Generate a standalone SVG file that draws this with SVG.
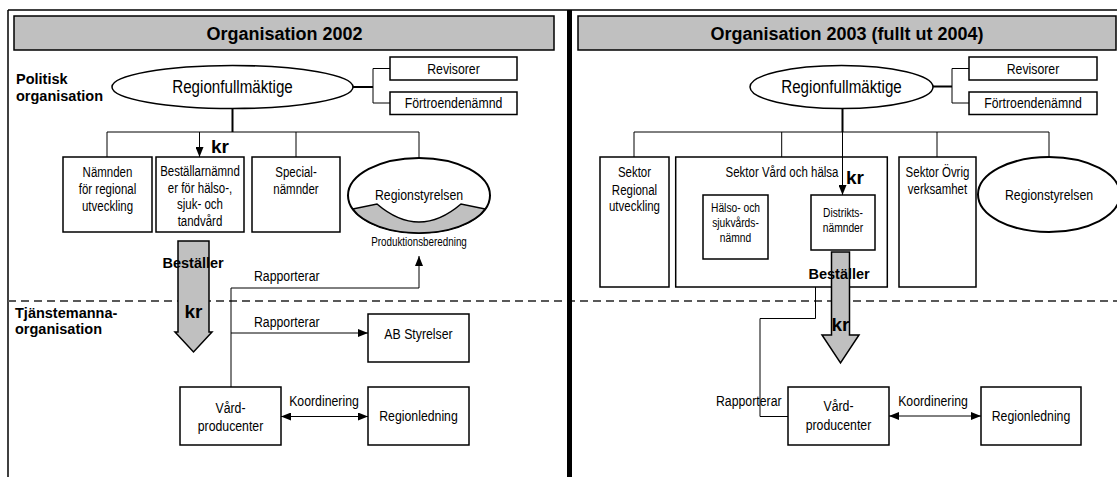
<svg xmlns="http://www.w3.org/2000/svg" width="1117" height="477" viewBox="0 0 1117 477">
<style>
.box{fill:#fff;stroke:#000;stroke-width:1.5}
.ell{fill:#fff;stroke:#000;stroke-width:1.5}
.ln{fill:none;stroke:#000;stroke-width:1}
.thk{fill:none;stroke:#000;stroke-width:2}
.grey{fill:#c0c0c0;stroke:#000;stroke-width:1.5}
.t{font-family:"Liberation Sans",Arial,sans-serif;fill:#000;text-anchor:middle}
.s{text-anchor:start}
.b{font-family:"Liberation Sans",Arial,sans-serif;font-weight:bold;fill:#000}
.f18{font-size:18.5px}.f15{font-size:15px}.f14{font-size:14px}.f12{font-size:12.5px}
</style>
<defs>
<marker id="ah" markerWidth="10" markerHeight="8" refX="10" refY="4" orient="auto-start-reverse" markerUnits="userSpaceOnUse">
<path d="M0,0 L10,4 L0,8 z" fill="#000"/>
</marker>
</defs>
<rect width="1117" height="477" fill="#fff"/>
<g id="frame">
<line x1="8" y1="10" x2="1117" y2="10" stroke="#000" stroke-width="1.5"/>
<line x1="8" y1="10" x2="8" y2="477" stroke="#000" stroke-width="1.5"/>
<path d="M8,301 H1117" stroke="#595959" stroke-width="2" stroke-dasharray="8 5" fill="none"/>
</g>
<g id="header-left">
<rect x="14" y="16" width="540" height="34" class="grey"/>
<text x="284.5" y="40" class="b" font-size="18" text-anchor="middle">Organisation 2002</text>
</g>
<g id="header-right">
<rect x="578" y="16" width="538" height="34" class="grey"/>
<text x="847" y="40" class="b" font-size="18" text-anchor="middle">Organisation 2003 (fullt ut 2004)</text>
</g>
<g id="label-politisk">
<text x="16" y="84" class="b" font-size="14.5">Politisk</text>
<text x="16" y="101" class="b" font-size="14.5">organisation</text>
</g>
<g id="label-tjanstemanna">
<text x="15" y="318" class="b" font-size="14.5">Tjänstemanna-</text>
<text x="15" y="334" class="b" font-size="14.5">organisation</text>
</g>
<g id="connectors">
<line x1="353" y1="87" x2="373" y2="87" class="thk"/>
<path d="M390,68.5 H373 V103 H390" class="ln"/>
<line x1="232.5" y1="108.5" x2="232.5" y2="132" class="thk"/>
<path d="M107,157 V132 H419 V158" class="ln"/>
<line x1="199.5" y1="132" x2="199.5" y2="157" class="ln" marker-end="url(#ah)"/>
<line x1="296" y1="132" x2="296" y2="157" class="ln"/>
<path d="M231,387 V288 H419 V256" class="ln" marker-end="url(#ah)"/>
<path d="M231,333 H368" class="ln" marker-end="url(#ah)"/>
<path d="M281,416.5 H368" class="ln" marker-start="url(#ah)" marker-end="url(#ah)"/>
<line x1="933" y1="86.5" x2="952" y2="86.5" class="thk"/>
<path d="M969,68.5 H952 V103 H969" class="ln"/>
<line x1="842.5" y1="108.5" x2="842.5" y2="132" class="thk"/>
<path d="M634,157 V132 H1049 V157" class="ln"/>
<line x1="781.7" y1="132" x2="781.7" y2="157" class="ln"/>
<line x1="937" y1="132" x2="937" y2="157" class="ln"/>
<path d="M788,416.5 H760 V318.5 H815.5 V251" class="ln" marker-end="url(#ah)"/>
<path d="M889,416 H981" class="ln" marker-start="url(#ah)" marker-end="url(#ah)"/>
</g>
<g id="regionfullmaktige-l">
<ellipse cx="232.5" cy="87" rx="120.5" ry="21.5" class="ell"/>
<text x="232.5" y="93.5" class="t f18" transform="matrix(.82 0 0 1 41.85 0)">Regionfullmäktige</text>
</g>
<g id="revisorer-l">
<rect x="390" y="57" width="127" height="23" class="box"/>
<text x="453.5" y="74.5" class="t f15" transform="matrix(.82 0 0 1 81.63 0)">Revisorer</text>
</g>
<g id="fortroende-l">
<rect x="390" y="92" width="127" height="22.5" class="box"/>
<text x="453.5" y="108.5" class="t f15" transform="matrix(.82 0 0 1 81.63 0)">Förtroendenämnd</text>
</g>
<g id="namnden-l">
<rect x="63" y="157" width="89" height="75" class="box"/>
<text x="107.5" y="177" class="t f14" transform="matrix(.82 0 0 1 19.35 0)">Nämnden</text>
<text x="107.5" y="194" class="t f14" transform="matrix(.82 0 0 1 19.35 0)">för regional</text>
<text x="107.5" y="211" class="t f14" transform="matrix(.82 0 0 1 19.35 0)">utveckling</text>
</g>
<g id="bestallar-l">
<rect x="156" y="157" width="88" height="75" class="box"/>
<text x="200" y="176.5" class="t f14" transform="matrix(.82 0 0 1 36 0)">Beställarnämnd</text>
<text x="200" y="193" class="t f14" transform="matrix(.82 0 0 1 36 0)">er för hälso-,</text>
<text x="200" y="209.5" class="t f14" transform="matrix(.82 0 0 1 36 0)">sjuk- och</text>
<text x="200" y="226" class="t f14" transform="matrix(.82 0 0 1 36 0)">tandvård</text>
</g>
<g id="special-l">
<rect x="252" y="157" width="88" height="75" class="box"/>
<text x="296" y="177" class="t f14" transform="matrix(.82 0 0 1 53.28 0)">Special-</text>
<text x="296" y="194" class="t f14" transform="matrix(.82 0 0 1 53.28 0)">nämnder</text>
</g>
<g id="regionstyrelsen-l">
<ellipse cx="419" cy="195.5" rx="71" ry="37.5" fill="#fff" stroke="#000" stroke-width="2"/>
<path d="M352.8,209 L377,204 Q419,240 461,204 L485.2,209 A71,37.5 0 0 1 352.8,209 Z" class="grey"/>
<text x="419" y="200" class="t f15" transform="matrix(.82 0 0 1 75.42 0)">Regionstyrelsen</text>
<text x="419" y="246.5" class="t" font-size="12" transform="matrix(.82 0 0 1 75.42 0)">Produktionsberedning</text>
</g>
<g id="kr-l">
<text x="211" y="153" class="b" font-size="19">kr</text>
</g>
<g id="bestaller-arrow-l">
<polygon points="178,241 209,241 209,332 212,332 193.5,352 175,332 178,332" class="grey"/>
<text x="162.5" y="268" class="b" font-size="14.5">Beställer</text>
<text x="193.5" y="318" class="b" font-size="19" text-anchor="middle">kr</text>
</g>
<g id="rapport-labels-l">
<text x="254" y="281" class="t s f15" transform="matrix(.82 0 0 1 45.72 0)">Rapporterar</text>
<text x="254" y="327" class="t s f15" transform="matrix(.82 0 0 1 45.72 0)">Rapporterar</text>
</g>
<g id="ab-styrelser">
<rect x="368" y="314" width="101" height="48" class="box"/>
<text x="418.5" y="339.5" class="t f15" transform="matrix(.82 0 0 1 75.33 0)">AB Styrelser</text>
</g>
<g id="vard-l">
<rect x="180" y="387" width="101" height="58" class="box"/>
<text x="230.5" y="413" class="t f15" transform="matrix(.82 0 0 1 41.49 0)">Vård-</text>
<text x="230.5" y="431.5" class="t f15" transform="matrix(.82 0 0 1 41.49 0)">producenter</text>
</g>
<g id="regionledning-l">
<rect x="368" y="387" width="101" height="58" class="box"/>
<text x="418.5" y="421.5" class="t f15" transform="matrix(.82 0 0 1 75.33 0)">Regionledning</text>
</g>
<text x="324" y="406" class="t f15" transform="matrix(.82 0 0 1 58.32 0)">Koordinering</text>
<g id="regionfullmaktige-r">
<ellipse cx="841.5" cy="87" rx="91.5" ry="21.5" class="ell"/>
<text x="841.5" y="93.5" class="t f18" transform="matrix(.82 0 0 1 151.47 0)">Regionfullmäktige</text>
</g>
<g id="revisorer-r">
<rect x="969" y="57" width="128" height="23" class="box"/>
<text x="1033" y="74.5" class="t f15" transform="matrix(.82 0 0 1 185.94 0)">Revisorer</text>
</g>
<g id="fortroende-r">
<rect x="969" y="92" width="128" height="22.5" class="box"/>
<text x="1033" y="108.5" class="t f15" transform="matrix(.82 0 0 1 185.94 0)">Förtroendenämnd</text>
</g>
<g id="sektor-regional">
<rect x="600" y="157" width="69" height="130" class="box"/>
<text x="634.5" y="177" class="t f14" transform="matrix(.82 0 0 1 114.21 0)">Sektor</text>
<text x="634.5" y="195" class="t f14" transform="matrix(.82 0 0 1 114.21 0)">Regional</text>
<text x="634.5" y="211" class="t f14" transform="matrix(.82 0 0 1 114.21 0)">utveckling</text>
</g>
<g id="sektor-vard">
<rect x="675.7" y="157" width="211.6" height="130" class="box"/>
<text x="782" y="177" class="t f14" transform="matrix(.82 0 0 1 140.76 0)">Sektor Vård och hälsa</text>
</g>
<g id="halso">
<rect x="703" y="195" width="65" height="64" class="box"/>
<text x="735.5" y="212.5" class="t f12" transform="matrix(.82 0 0 1 132.39 0)">Hälso- och</text>
<text x="735.5" y="227" class="t f12" transform="matrix(.82 0 0 1 132.39 0)">sjukvårds-</text>
<text x="735.5" y="242" class="t f12" transform="matrix(.82 0 0 1 132.39 0)">nämnd</text>
</g>
<g id="distrikts">
<rect x="811" y="195" width="64" height="55" class="box"/>
<text x="843" y="217" class="t f12" transform="matrix(.82 0 0 1 151.74 0)">Distrikts-</text>
<text x="843" y="232" class="t f12" transform="matrix(.82 0 0 1 151.74 0)">nämnder</text>
</g>
<g id="arrow-kr-r">
<line x1="842.5" y1="132" x2="842.5" y2="195" class="ln" marker-end="url(#ah)"/>
<text x="846" y="184" class="b" font-size="19">kr</text>
</g>
<g id="sektor-ovrig">
<rect x="899" y="157" width="77" height="130" class="box"/>
<text x="937.5" y="177" class="t f14" transform="matrix(.82 0 0 1 168.75 0)">Sektor Övrig</text>
<text x="937.5" y="194" class="t f14" transform="matrix(.82 0 0 1 168.75 0)">verksamhet</text>
</g>
<g id="regionstyrelsen-r">
<ellipse cx="1049" cy="194.5" rx="71" ry="37.5" fill="#fff" stroke="#000" stroke-width="2"/>
<text x="1049" y="200" class="t f15" transform="matrix(.82 0 0 1 188.82 0)">Regionstyrelsen</text>
</g>
<g id="bestaller-arrow-r">
<polygon points="831.5,252 849.5,252 849.5,335 859,335 840.5,363 822,335 831.5,335" class="grey"/>
<text x="808.5" y="279" class="b" font-size="14.5">Beställer</text>
<text x="840.5" y="331" class="b" font-size="19" text-anchor="middle">kr</text>
</g>
<text x="716" y="406" class="t s f15" transform="matrix(.82 0 0 1 128.88 0)">Rapporterar</text>
<g id="vard-r">
<rect x="788" y="387" width="101" height="58" class="box"/>
<text x="838.5" y="411.5" class="t f15" transform="matrix(.82 0 0 1 150.93 0)">Vård-</text>
<text x="838.5" y="430" class="t f15" transform="matrix(.82 0 0 1 150.93 0)">producenter</text>
</g>
<g id="regionledning-r">
<rect x="981" y="387" width="100" height="58" class="box"/>
<text x="1031" y="421.5" class="t f15" transform="matrix(.82 0 0 1 185.58 0)">Regionledning</text>
</g>
<text x="933" y="406" class="t f15" transform="matrix(.82 0 0 1 167.94 0)">Koordinering</text>
<line x1="569.5" y1="10" x2="569.5" y2="477" stroke="#000" stroke-width="5"/>
</svg>
